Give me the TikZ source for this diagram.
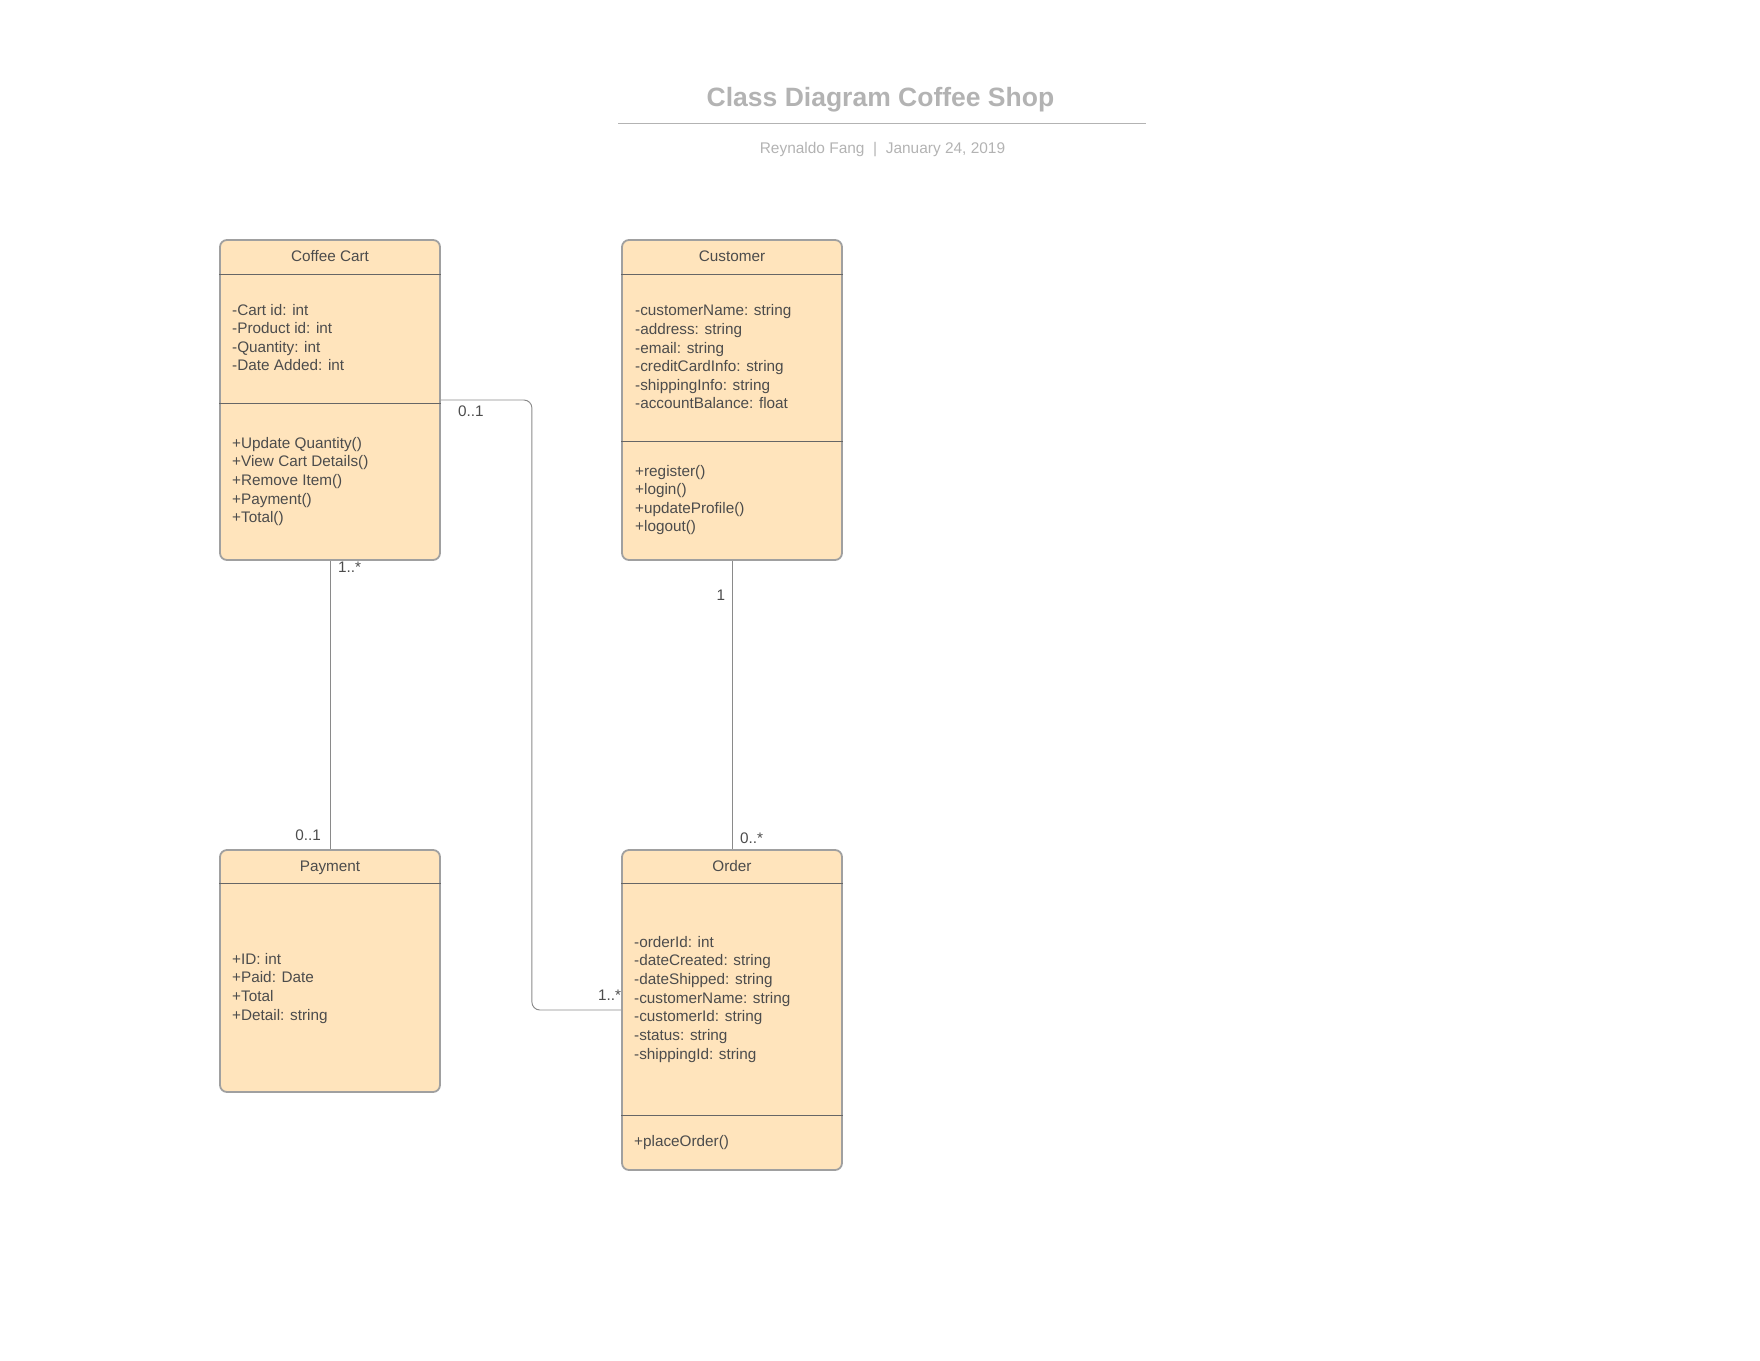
\documentclass[tikz,border=0pt]{standalone}
\usepackage{fontspec}
\setmainfont{Liberation Sans}
\usetikzlibrary{calc}
\definecolor{boxfill}{HTML}{FFE4BC}
\definecolor{boxborder}{HTML}{A0A0A0}
\definecolor{divc}{HTML}{666666}
\definecolor{textc}{HTML}{4C4C4C}
\definecolor{linec}{HTML}{8A8A8A}
\definecolor{titlec}{HTML}{B3B3B3}
\definecolor{subc}{HTML}{B3B3B3}
\begin{document}
\begin{tikzpicture}[x=1pt,y=-1pt,
  classbox/.style={draw=boxborder, line width=1.8pt, fill=boxfill, rounded corners=7pt, minimum width=220pt, inner sep=0pt},
  txt/.style={font=\fontsize{15.3pt}{18.7pt}\selectfont, text=textc, inner sep=0pt, anchor=base west},
  hdr/.style={txt, anchor=base},
  divider/.style={draw=divc, line width=1pt},
  conn/.style={draw=linec, line width=0.95pt},
  mult/.style={txt}]
\useasboundingbox (0,0) rectangle (1760,1360);

% title
\node[font=\fontsize{26.5pt}{30pt}\selectfont\bfseries, text=titlec, anchor=base, inner sep=0pt] (title) at (880.5,106) {Class Diagram Coffee Shop};
\draw[draw=titlec, line width=1.5pt] (618,123.3) -- (1146,123.3);
\node[font=\fontsize{15.45pt}{18pt}\selectfont, text=subc, anchor=base, inner sep=0pt] (sub) at (882.5,153.3) {Reynaldo Fang\ \ |\ \ January 24, 2019};

% boxes
\node[classbox, minimum height=320pt] (cart) at (330,400) {};
\node[classbox, minimum height=320pt] (cust) at (732,400) {};
\node[classbox, minimum height=242pt] (pay) at (330,971) {};
\node[classbox, minimum height=320pt] (order) at (732,1010) {};

% dividers
\draw[divider] ($(cart.north west)+(0,35)$) -- ($(cart.north east)+(0,35)$);
\draw[divider] ($(cart.north west)+(0,164)$) -- ($(cart.north east)+(0,164)$);
\draw[divider] ($(cust.north west)+(0,35)$) -- ($(cust.north east)+(0,35)$);
\draw[divider] ($(cust.north west)+(0,202)$) -- ($(cust.north east)+(0,202)$);
\draw[divider] ($(pay.north west)+(0,34)$) -- ($(pay.north east)+(0,34)$);
\draw[divider] ($(order.north west)+(0,34)$) -- ($(order.north east)+(0,34)$);
\draw[divider] ($(order.north west)+(0,266)$) -- ($(order.north east)+(0,266)$);

% headers
\node[hdr] (cartH) at (330,261) {Coffee Cart};
\node[hdr] (custH) at (732,261) {Customer};
\node[hdr] (payH) at (330,871) {Payment};
\node[hdr] (orderH) at (732,871) {Order};

% Coffee Cart
\foreach \t [count=\i from 0] in {-Cart id: int,-Product id: int,-Quantity: int,-Date Added: int}
  \node[txt] (cartA\i) at (232,{315+18.65*\i}) {\t};
\foreach \t [count=\i from 0] in {+Update Quantity(),+View Cart Details(),+Remove Item(),+Payment(),+Total()}
  \node[txt] (cartM\i) at (232,{448.3+18.6*\i}) {\t};

% Customer
\foreach \t [count=\i from 0] in {-customerName: string,-address: string,-email: string,-creditCardInfo: string,-shippingInfo: string,-accountBalance: float}
  \node[txt] (custA\i) at (635,{315.7+18.65*\i}) {\t};
\foreach \t [count=\i from 0] in {+register(),+login(),+updateProfile(),+logout()}
  \node[txt] (custM\i) at (635,{476+18.65*\i}) {\t};

% Payment
\foreach \t [count=\i from 0] in {+ID: int,+Paid: Date,+Total,+Detail: string}
  \node[txt] (payA\i) at (232,{964.3+18.65*\i}) {\t};

% Order
\foreach \t [count=\i from 0] in {-orderId: int,-dateCreated: string,-dateShipped: string,-customerName: string,-customerId: string,-status: string,-shippingId: string}
  \node[txt] (orderA\i) at (634,{947.3+18.65*\i}) {\t};
\node[txt] (orderM0) at (634,1146) {+placeOrder()};

% connectors
\draw[conn] (cart.south) -- (pay.north);
\draw[conn] (cust.south) -- (order.north);
\draw[conn, rounded corners=8pt] (cart.east) -- ++(91,0) |- (order.west);

% multiplicities
\node[mult] (m1) at (458,416.7) {0..1};
\node[mult] (m2) at (338,572.7) {1..*};
\node[mult, anchor=base east] (m3) at (321,840.7) {0..1};
\node[mult] (m4) at (716.5,600) {1};
\node[mult] (m5) at (740,843) {0..*};
\node[mult] (m6) at (598,1000) {1..*};
\end{tikzpicture}
\end{document}
